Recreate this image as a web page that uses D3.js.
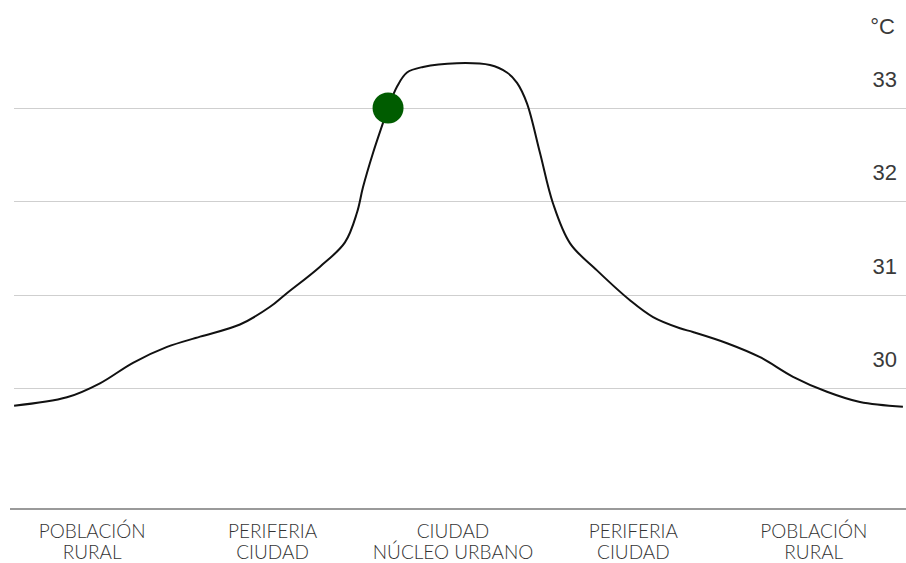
<!DOCTYPE html>
<html>
<head>
<meta charset="utf-8">
<script src="https://cdn.jsdelivr.net/npm/d3@7"></script>
<style>
  html, body { margin: 0; padding: 0; background: #fff; }
  svg { display: block; }
</style>
</head>
<body>
<svg id="chart" width="906" height="563"></svg>
<script>
// Category labels along the bottom (two lines each).
const categoryTop = ["POBLACIÓN", "PERIFERIA", "CIUDAD", "PERIFERIA", "POBLACIÓN"];
const categoryBottom = ["RURAL", "CIUDAD", "NÚCLEO URBANO", "CIUDAD", "RURAL"];

// Position along the transect (0 = first category, 4 = last one).
const positions = [-0.433, -0.14, 0.043, 0.226, 0.415, 0.598, 0.819, 0.986, 1.069, 1.263,
    1.401, 1.468, 1.501, 1.557, 1.612, 1.64, 1.69, 1.745, 1.834, 2.022,
    2.205, 2.299, 2.355, 2.41, 2.482, 2.554, 2.649, 2.798, 2.981, 3.109,
    3.258, 3.33, 3.519, 3.702, 3.885, 4.073, 4.256, 4.494];
// Temperature in °C at each position.
const temps = [29.81, 29.90, 30.05, 30.27, 30.44, 30.55, 30.68, 30.87, 31.00, 31.30,
    31.56, 31.88, 32.15, 32.52, 32.84, 33.00, 33.23, 33.38, 33.44, 33.48,
    33.46, 33.38, 33.27, 33.05, 32.52, 31.98, 31.55, 31.26, 30.94, 30.76,
    30.64, 30.60, 30.48, 30.33, 30.12, 29.96, 29.85, 29.80];

// Tick values on the temperature axis.
const yTicks = [30, 31, 32, 33];
const unitLabel = "°C";

// The highlighted point on the curve.
const markerPos = [1.64];
const markerTemp = [33.0];

// Layout of the drawing.
const width = 906, height = 563;
const gridLeft = 14, gridRight = 906;
const baseY = 509;

const svg = d3.select("#chart");

const x = d3.scaleLinear().domain([-0.5, 4.5]).range([2, 904]);
const y = d3.scaleLinear().domain([30, 33]).range([388, 108]);

// Horizontal gridlines.
svg.append("g")
    .selectAll("line")
    .data(yTicks)
    .join("line")
    .attr("x1", gridLeft)
    .attr("x2", gridRight)
    .attr("y1", d => Math.round(y(d)) + 0.5)
    .attr("y2", d => Math.round(y(d)) + 0.5)
    .attr("stroke", "#cfcfcf")
    .attr("stroke-width", 1.2);

// Tick labels on the right, sitting above their gridlines.
svg.append("g")
    .selectAll("text")
    .data(yTicks)
    .join("text")
    .attr("x", 897)
    .attr("y", d => y(d) - 21)
    .attr("text-anchor", "end")
    .style("font-family", "'Liberation Sans', Arial, sans-serif")
    .style("font-size", "22px")
    .attr("fill", "#3a3a3a")
    .text(d => d);

svg.append("text")
    .attr("x", 895)
    .attr("y", 34)
    .attr("text-anchor", "end")
    .style("font-family", "'Liberation Sans', Arial, sans-serif")
    .style("font-size", "22px")
    .attr("fill", "#3a3a3a")
    .text(unitLabel);

// Base line under the chart.
svg.append("line")
    .attr("x1", 10)
    .attr("x2", width)
    .attr("y1", baseY)
    .attr("y2", baseY)
    .attr("stroke", "#9a9a9a")
    .attr("stroke-width", 2);

// Temperature curve.
const line = d3.line()
    .x((d, i) => x(positions[i]))
    .y(d => y(d))
    .curve(d3.curveCatmullRom.alpha(0.5));

svg.append("path")
    .datum(temps)
    .attr("d", line)
    .attr("fill", "none")
    .attr("stroke", "#111")
    .attr("stroke-width", 2);

// Marker.
svg.append("g")
    .selectAll("circle")
    .data(markerTemp)
    .join("circle")
    .attr("cx", (d, i) => x(markerPos[i]))
    .attr("cy", d => y(d))
    .attr("r", 15.5)
    .attr("fill", "#005c00");

// Category labels.
const labels = svg.append("g")
    .selectAll("text")
    .data(categoryTop)
    .join("text")
    .attr("text-anchor", "middle")
    .style("font-family", "Lato, 'DejaVu Sans', sans-serif")
    .style("font-size", "19px")
    .style("font-weight", 300)
    .attr("fill", "#333");

labels.append("tspan")
    .attr("x", (d, i) => x(i))
    .attr("y", 538)
    .text(d => d);

labels.append("tspan")
    .attr("x", (d, i) => x(i))
    .attr("y", 559)
    .text((d, i) => categoryBottom[i]);
</script>
</body>
</html>
